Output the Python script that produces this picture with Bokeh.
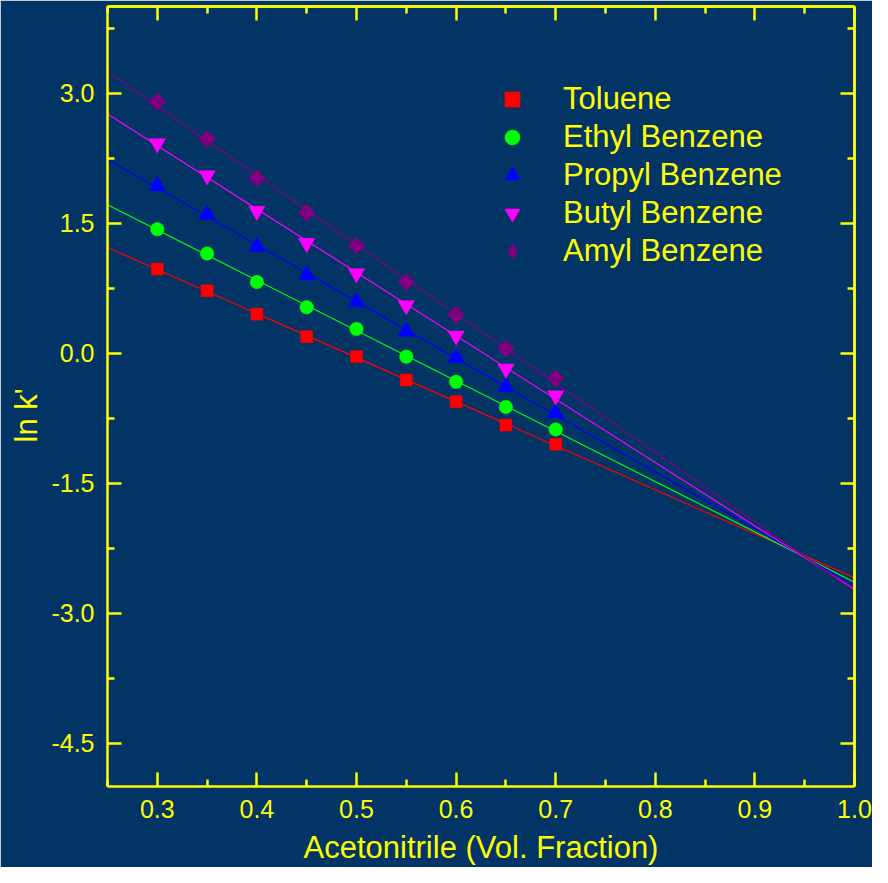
import numpy as np
from bokeh.plotting import figure
from bokeh.models import (LinearAxis, FixedTicker, NumeralTickFormatter, Legend,
                          LegendItem, Title, Range1d)
from bokeh.embed import file_html
from bokeh.resources import INLINE

# ---------------- data ----------------
acetonitrile = [0.30, 0.35, 0.40, 0.45, 0.50, 0.55, 0.60, 0.65, 0.70]
toluene = [0.97, 0.72, 0.45, 0.19, -0.04, -0.31, -0.56, -0.83, -1.05]
ethyl_benzene = [1.43, 1.15, 0.82, 0.53, 0.28, -0.04, -0.33, -0.62, -0.88]
propyl_benzene = [1.93, 1.60, 1.23, 0.90, 0.59, 0.25, -0.05, -0.39, -0.69]
butyl_benzene = [2.42, 2.05, 1.64, 1.27, 0.92, 0.55, 0.20, -0.18, -0.49]
amyl_benzene = [2.90, 2.47, 2.02, 1.62, 1.24, 0.82, 0.44, 0.05, -0.29]

series_names = ["Toluene", "Ethyl Benzene", "Propyl Benzene", "Butyl Benzene", "Amyl Benzene"]
series_values = [toluene, ethyl_benzene, propyl_benzene, butyl_benzene, amyl_benzene]

x_ticks = [0.3, 0.4, 0.5, 0.6, 0.7, 0.8, 0.9, 1.0]
x_minor_ticks = [0.25, 0.35, 0.45, 0.55, 0.65, 0.75, 0.85, 0.95]
y_ticks = [-4.5, -3.0, -1.5, 0.0, 1.5, 3.0]
y_minor_ticks = [-3.75, -2.25, -0.75, 0.75, 2.25, 3.75]
X_START, X_END = 0.25, 1.0
Y_START, Y_END = -5.0, 4.0

# ---------------- styles ----------------
BG = "#023466"
YEL = "#FFFF00"
FONT = "Liberation Sans"
colors = ["#FF0000", "#00FF00", "#0000FF", "#FF00FF", "#800080"]
markers = ["square", "circle", "triangle", "inverted_triangle", "square"]
sizes = [12, 13.5, 16.5, 16.5, 12]
angles = [0, 0, 0, 0, np.pi / 4]

p = figure(width=872, height=867, output_backend="svg", toolbar_location=None,
           x_range=Range1d(X_START, X_END), y_range=Range1d(Y_START, Y_END),
           min_border_left=107, min_border_right=18, min_border_top=6, min_border_bottom=81,
           background_fill_color=BG, border_fill_color=BG, outline_line_color=None)
p.xgrid.visible = False
p.ygrid.visible = False


def base_style(ax):
    ax.axis_line_color = YEL
    ax.axis_line_width = 2.5
    ax.major_tick_line_color = YEL
    ax.minor_tick_line_color = YEL
    ax.major_tick_line_width = 2.5
    ax.minor_tick_line_width = 2.5
    ax.major_tick_out = 0
    ax.minor_tick_out = 0


def style_main(ax, ticks, minor, standoff):
    base_style(ax)
    ax.ticker = FixedTicker(ticks=ticks, minor_ticks=minor)
    ax.formatter = NumeralTickFormatter(format="0.0")
    ax.major_tick_in = 14
    ax.minor_tick_in = 7
    ax.major_label_standoff = standoff
    ax.major_label_text_color = YEL
    ax.major_label_text_font = FONT
    ax.major_label_text_font_size = "25px"


def frame_axis(tick_positions, length):
    # unlabeled axis on the opposite side: only inward ticks
    ax = LinearAxis(ticker=FixedTicker(ticks=[], minor_ticks=tick_positions))
    base_style(ax)
    ax.major_tick_in = 0
    ax.minor_tick_in = length
    ax.major_label_standoff = 0
    return ax


style_main(p.xaxis[0], x_ticks, x_minor_ticks, 13)
style_main(p.yaxis[0], y_ticks, y_minor_ticks, 13)
p.xaxis[0].axis_label = "Acetonitrile (Vol. Fraction)"
p.xaxis[0].axis_label_text_font = FONT
p.xaxis[0].axis_label_text_font_size = "31px"
p.xaxis[0].axis_label_text_font_style = "normal"
p.xaxis[0].axis_label_text_color = YEL
p.xaxis[0].axis_label_standoff = 9

p.add_layout(frame_axis(x_ticks, 14), "above")
p.add_layout(frame_axis(x_minor_ticks, 7), "above")
p.add_layout(frame_axis(y_ticks, 14), "right")
p.add_layout(frame_axis(y_minor_ticks, 7), "right")

# y-axis title
p.add_layout(Title(text="ln k'", align="left", vertical_align="top", offset=344, standoff=6,
                   text_font=FONT, text_font_size="31px", text_font_style="normal",
                   text_color=YEL), "left")

# fitted lines and points
x_arr = np.array(acetonitrile)
x_line = np.array([X_START, X_END])
for vals, c in zip(series_values, colors):
    slope, icpt = np.polyfit(x_arr, np.array(vals), 1)
    p.line(x_line, slope * x_line + icpt, line_color=c, line_width=1.2)

items = []
for name, vals, c, m, s, a in zip(series_names, series_values, colors, markers, sizes, angles):
    r = p.scatter(acetonitrile, vals, marker=m, size=s, angle=a,
                  fill_color=c, line_color=c, line_width=0.5)
    if a != 0:
        # diamond outline lying inside the rotated square, used for the legend symbol
        r = p.scatter(acetonitrile, vals, marker="diamond", size=s * 1.4,
                      fill_color=c, line_color=c, line_width=0.5)
    items.append(LegendItem(label=name, renderers=[r]))

legend = Legend(items=items, location=(384, 516), orientation="vertical",
                glyph_width=42, glyph_height=38, spacing=0, label_standoff=30,
                padding=0, margin=0, border_line_color=None, background_fill_alpha=0,
                label_text_font=FONT, label_text_font_size="31px", label_text_color=YEL,
                label_height=34)
p.add_layout(legend, "center")

open("out.html", "w").write(file_html(p, INLINE))
